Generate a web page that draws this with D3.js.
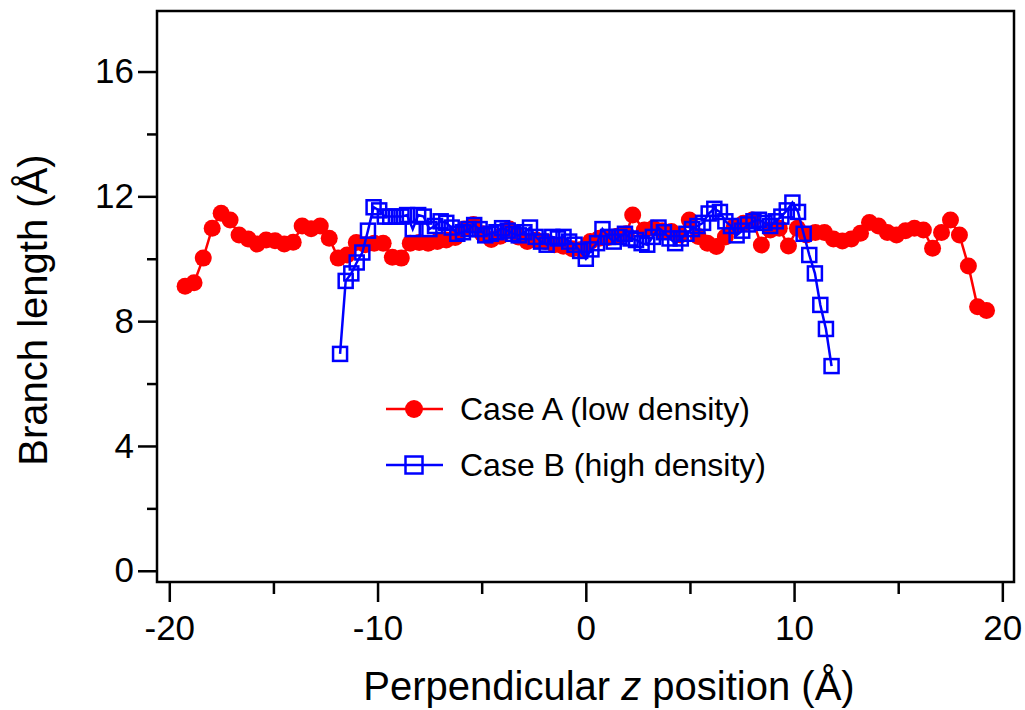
<!DOCTYPE html>
<html>
<head>
<meta charset="utf-8">
<script src="https://cdn.jsdelivr.net/npm/d3@7"></script>
<style>
  body { margin: 0; background: #fff; }
  #graph { width: 1025px; height: 710px; }
  text { font-family: "Liberation Sans", Arial, sans-serif; }
</style>
</head>
<body>
<div id="graph"></div>
<script>
// Case A (low density), red circles
var caseA_z = [-19.24, -18.81, -18.37, -17.94, -17.51, -17.08, -16.65, -16.21, -15.78, -15.35,
  -14.92, -14.48, -14.05, -13.62, -13.19, -12.75, -12.32, -11.89, -11.46, -11.02,
  -10.59, -10.16, -9.73, -9.29, -8.86, -8.43, -8.00, -7.57, -7.13, -6.70,
  -6.27, -5.84, -5.40, -4.97, -4.54, -4.11, -3.67, -3.24, -2.81, -2.38,
  -1.94, -1.51, -1.08, -0.65, -0.22, 0.22, 0.65, 1.08, 1.51, 1.94,
  2.25, 2.81, 3.24, 3.67, 4.11, 4.54, 4.97, 5.40, 5.84, 6.27,
  6.70, 7.13, 7.57, 8.00, 8.43, 8.86, 9.29, 9.73, 10.16, 10.59,
  11.02, 11.46, 11.89, 12.32, 12.75, 13.19, 13.62, 14.05, 14.48, 14.92,
  15.35, 15.78, 16.21, 16.65, 17.08, 17.51, 17.94, 18.37, 18.81, 19.24];
var caseA_len = [9.12, 9.23, 10.02, 10.98, 11.46, 11.24, 10.76, 10.63, 10.47, 10.6,
  10.58, 10.47, 10.53, 11.05, 10.96, 11.05, 10.66, 10.02, 10.12, 10.52,
  10.45, 10.5, 10.5, 10.05, 10.02, 10.5, 10.52, 10.5, 10.55, 10.6,
  10.68, 10.95, 11.1, 10.8, 10.62, 10.72, 10.95, 10.7, 10.55, 10.6,
  10.55, 10.45, 10.4, 10.32, 10.3, 10.55, 10.66, 10.68, 10.72, 10.8,
  11.4, 10.92, 10.98, 10.9, 10.87, 10.76, 11.24, 10.71, 10.5, 10.39,
  10.7, 11.03, 11.14, 11.24, 10.44, 10.92, 10.98, 10.41, 10.98, 10.76,
  10.84, 10.84, 10.63, 10.57, 10.63, 10.82, 11.16, 11.05, 10.84, 10.76,
  10.9, 10.98, 10.92, 10.34, 10.84, 11.24, 10.76, 9.77, 8.46, 8.34];

// Case B (high density), blue open squares
var caseB_z = [-11.80, -11.53, -11.26, -11.00, -10.73, -10.46, -10.19, -9.92, -9.65, -9.39,
  -9.12, -8.85, -8.58, -8.31, -8.05, -7.78, -7.51, -7.24, -6.97, -6.70,
  -6.44, -6.17, -5.90, -5.63, -5.36, -5.10, -4.83, -4.56, -4.29, -4.02,
  -3.75, -3.49, -3.22, -2.95, -2.68, -2.41, -2.15, -1.88, -1.61, -1.34,
  -1.07, -0.80, -0.54, -0.27, 0.00, 0.27, 0.54, 0.80, 1.07, 1.34,
  1.61, 1.88, 2.15, 2.41, 2.68, 2.95, 3.22, 3.49, 3.75, 4.02,
  4.29, 4.56, 4.83, 5.10, 5.36, 5.63, 5.90, 6.17, 6.44, 6.70,
  6.97, 7.24, 7.51, 7.78, 8.05, 8.31, 8.58, 8.85, 9.12, 9.39,
  9.65, 9.92, 10.19, 10.46, 10.73, 11.00, 11.26, 11.53, 11.80];
var caseB_len = [6.95, 9.29, 9.53, 9.88, 10.2, 10.9, 11.65, 11.55, 11.35, 11.35,
  11.35, 11.35, 11.4, 10.95, 11.4, 11.35, 10.95, 11.05, 11.2, 11.15,
  11.0, 10.8, 10.85, 10.95, 11.08, 10.95, 10.75, 10.8, 10.85, 10.98,
  10.9, 10.8, 10.75, 10.85, 11.0, 10.7, 10.55, 10.45, 10.7, 10.65,
  10.7, 10.55, 10.45, 10.25, 10.0, 10.3, 10.5, 10.95, 10.7, 10.55,
  10.7, 10.8, 10.65, 10.6, 10.5, 10.45, 10.7, 11.0, 10.85, 10.65,
  10.5, 10.65, 10.8, 10.95, 11.05, 11.15, 11.45, 11.6, 11.5, 11.2,
  11.05, 10.75, 10.9, 11.1, 11.2, 11.25, 11.15, 11.05, 11.2, 11.35,
  11.55, 11.8, 11.5, 10.8, 10.12, 9.53, 8.52, 7.75, 6.56];

var seriesNames = ["Case A (low density)", "Case B (high density)"];
var xMajor = [-20, -10, 0, 10, 20], xMinor = [-15, -5, 5, 15];
var yMajor = [0, 4, 8, 12, 16], yMinor = [2, 6, 10, 14];

function drawGraph() {
    var margin = {top: 11, right: 11, bottom: 128, left: 157},
        width = 1025 - margin.left - margin.right,
        height = 710 - margin.top - margin.bottom;

    var svg = d3.select("#graph").append("svg")
        .attr("width", 1025).attr("height", 710)
        .append("g")
        .attr("transform", "translate(" + margin.left + "," + margin.top + ")");

    var scX = d3.scaleLinear().domain([-20.59, 20.56]).range([0, width]);
    var scY = d3.scaleLinear().domain([-0.36, 17.94]).range([height, 0]);

    // frame
    svg.append("rect")
        .attr("width", width).attr("height", height)
        .attr("fill", "none").attr("stroke", "#000").attr("stroke-width", 2.5);

    // plain hyphen for negatives, like the original
    var fmt = d => String(d);

    // x axis, major + minor ticks
    svg.append("g").attr("transform", "translate(0," + height + ")")
        .call(d3.axisBottom(scX).tickValues(xMajor).tickSize(20).tickPadding(13).tickFormat(fmt));
    svg.append("g").attr("transform", "translate(0," + height + ")")
        .call(d3.axisBottom(scX).tickValues(xMinor).tickSize(12).tickFormat(""));

    svg.append("g")
        .call(d3.axisLeft(scY).tickValues(yMajor).tickSize(19).tickPadding(4).tickFormat(fmt));
    svg.append("g")
        .call(d3.axisLeft(scY).tickValues(yMinor).tickSize(10).tickFormat(""));

    svg.selectAll(".domain").remove();
    svg.selectAll(".tick line").attr("stroke", "#000").attr("stroke-width", 2.5);
    svg.selectAll(".tick text").attr("font-family", "Liberation Sans, Arial, sans-serif")
        .attr("font-size", "35px").attr("fill", "#000");

    // lines + markers
    var dataA = caseA_z.map((z, i) => [z, caseA_len[i]]);
    var dataB = caseB_z.map((z, i) => [z, caseB_len[i]]);
    var line = d3.line().x(d => scX(d[0])).y(d => scY(d[1]));

    svg.append("path").datum(dataA).attr("d", line)
        .attr("fill", "none").attr("stroke", "#ff0000").attr("stroke-width", 2.5);
    svg.selectAll("circle.a").data(dataA).enter().append("circle")
        .attr("class", "a")
        .attr("cx", d => scX(d[0])).attr("cy", d => scY(d[1]))
        .attr("r", 8.5).attr("fill", "#ff0000");

    svg.append("path").datum(dataB).attr("d", line)
        .attr("fill", "none").attr("stroke", "#0000ff").attr("stroke-width", 2.5);
    var sq = 14;
    svg.selectAll("rect.b").data(dataB).enter().append("rect")
        .attr("class", "b")
        .attr("x", d => scX(d[0]) - sq / 2).attr("y", d => scY(d[1]) - sq / 2)
        .attr("width", sq).attr("height", sq)
        .attr("fill", "none").attr("stroke", "#0000ff").attr("stroke-width", 2.5);

    // legend
    var lg = svg.append("g").attr("transform", "translate(" + (386 - margin.left) + "," + (409 - margin.top) + ")");
    lg.append("line").attr("x1", 0).attr("x2", 57).attr("y1", 0).attr("y2", 0)
        .attr("stroke", "#ff0000").attr("stroke-width", 2.5);
    lg.append("circle").attr("cx", 28).attr("cy", 0).attr("r", 9).attr("fill", "#ff0000");
    lg.append("line").attr("x1", 0).attr("x2", 57).attr("y1", 56).attr("y2", 56)
        .attr("stroke", "#0000ff").attr("stroke-width", 2.5);
    lg.append("rect").attr("x", 28 - 8.5).attr("y", 56 - 8.5).attr("width", 17).attr("height", 17)
        .attr("fill", "none").attr("stroke", "#0000ff").attr("stroke-width", 2.5);
    lg.selectAll("text.lg").data(seriesNames).enter().append("text")
        .attr("class", "lg")
        .attr("x", 74).attr("y", (d, i) => 11 + i * 56)
        .attr("font-size", "32px").text(d => d);

    // axis titles
    var xt = svg.append("text")
        .attr("x", 609 - margin.left)
        .attr("y", 700 - margin.top)
        .attr("text-anchor", "middle")
        .attr("font-size", "40px");
    xt.append("tspan").text("Perpendicular ");
    xt.append("tspan").attr("font-style", "italic").text("z");
    xt.append("tspan").text(" position (Å)");

    svg.append("text")
        .attr("transform", "rotate(-90)")
        .attr("x", -(310 - margin.top))
        .attr("y", 47 - margin.left)
        .attr("text-anchor", "middle")
        .attr("font-size", "40px")
        .text("Branch length (Å)");
}
drawGraph();
</script>
</body>
</html>
